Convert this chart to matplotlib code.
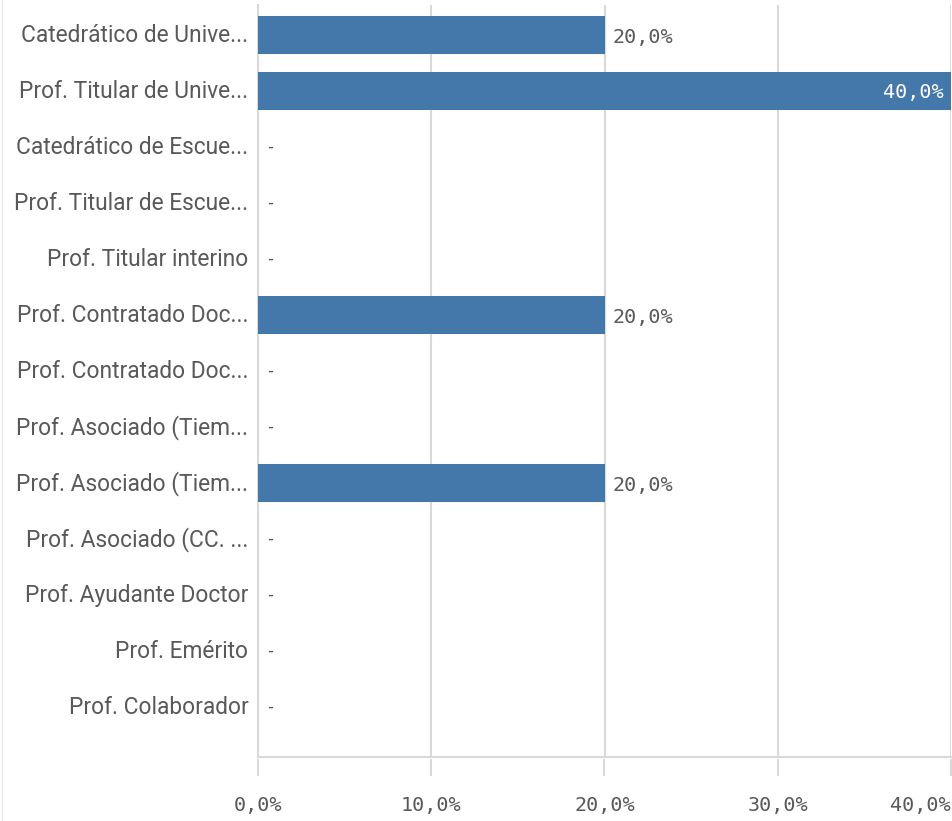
import matplotlib
matplotlib.use("Agg")
import matplotlib.pyplot as plt
from matplotlib.transforms import ScaledTranslation

categories = [
    "Catedrático de Unive...",
    "Prof. Titular de Unive...",
    "Catedrático de Escue...",
    "Prof. Titular de Escue...",
    "Prof. Titular interino",
    "Prof. Contratado Doc...",
    "Prof. Contratado Doc...",
    "Prof. Asociado (Tiem...",
    "Prof. Asociado (Tiem...",
    "Prof. Asociado (CC. ...",
    "Prof. Ayudante Doctor",
    "Prof. Emérito",
    "Prof. Colaborador",
]
values = [20.0, 40.0, 0, 0, 0, 20.0, 0, 0, 20.0, 0, 0, 0, 0]
xticks = [0, 10, 20, 30, 40]
xtick_labels = ["0,0%", "10,0%", "20,0%", "30,0%", "40,0%"]

bar_color = "#4477aa"
text_color = "#595959"
grid_color = "#d9d9d9"
label_font = ["Roboto", "DejaVu Sans"]
mono_font = ["DejaVu Sans Mono"]

W, H = 953, 821
fig = plt.figure(figsize=(W / 100, H / 100), dpi=100)
left, right, top, bottom = 258, 951, 5, 757
ax = fig.add_axes([left / W, 1 - bottom / H, (right - left) / W, (bottom - top) / H])

n = len(categories)
pitch = 56
ax.set_xlim(0, 40)
ax.set_ylim(12 + (bottom - 707) / pitch, -(35 - top) / pitch)

ax.barh(range(n), values, height=38 / pitch, color=bar_color, zorder=3)

for i, v in enumerate(values):
    if v == 0:
        ax.text(0.4, i, "-", ha="left", va="center", fontsize=12,
                family=mono_font, color=text_color, zorder=4)
    elif v >= 35:
        ax.text(v - 0.4, i + 0.03, f"{v:.1f}%".replace(".", ","), ha="right", va="center",
                fontsize=14.5, family=mono_font, color="#ffffff", zorder=4)
    else:
        ax.text(v + 0.45, i + 0.05, f"{v:.1f}%".replace(".", ","), ha="left", va="center",
                fontsize=14.5, family=mono_font, color=text_color, zorder=4)

ax.set_yticks(range(n))
ax.set_yticklabels(categories, family=label_font, fontsize=16.4, color=text_color)
ax.tick_params(axis="y", length=0, pad=7)
for lab in ax.get_yticklabels():
    lab.set_transform(lab.get_transform() + ScaledTranslation(0, 2 / 100, fig.dpi_scale_trans))

ax.set_xticks(xticks)
ax.set_xticklabels([])
ax.tick_params(axis="x", length=0)
ax.grid(axis="x", color=grid_color, linewidth=1.5, zorder=0)
ax.grid(axis="y", visible=False)

for s in ["top", "right"]:
    ax.spines[s].set_visible(False)
for s in ["left", "bottom"]:
    ax.spines[s].set_color(grid_color)
    ax.spines[s].set_linewidth(1.5)

for t, lab in zip(xticks, xtick_labels):
    xf = (left + (right - left) * t / 40) / W
    fig.add_artist(plt.Line2D([xf, xf], [1 - 760 / H, 1 - 775 / H],
                              color=grid_color, linewidth=1.5))
    ha = "right" if t == 40 else "center"
    xpos = xf if t != 40 else 951 / W
    fig.text(xpos, 1 - 805 / H, lab, ha=ha, va="center", fontsize=14.5,
             family=mono_font, color=text_color)

fig.add_artist(plt.Line2D([2 / W, 2 / W], [0, 1], color="#ebebeb", linewidth=1))

fig.savefig("out.png", dpi=100)
